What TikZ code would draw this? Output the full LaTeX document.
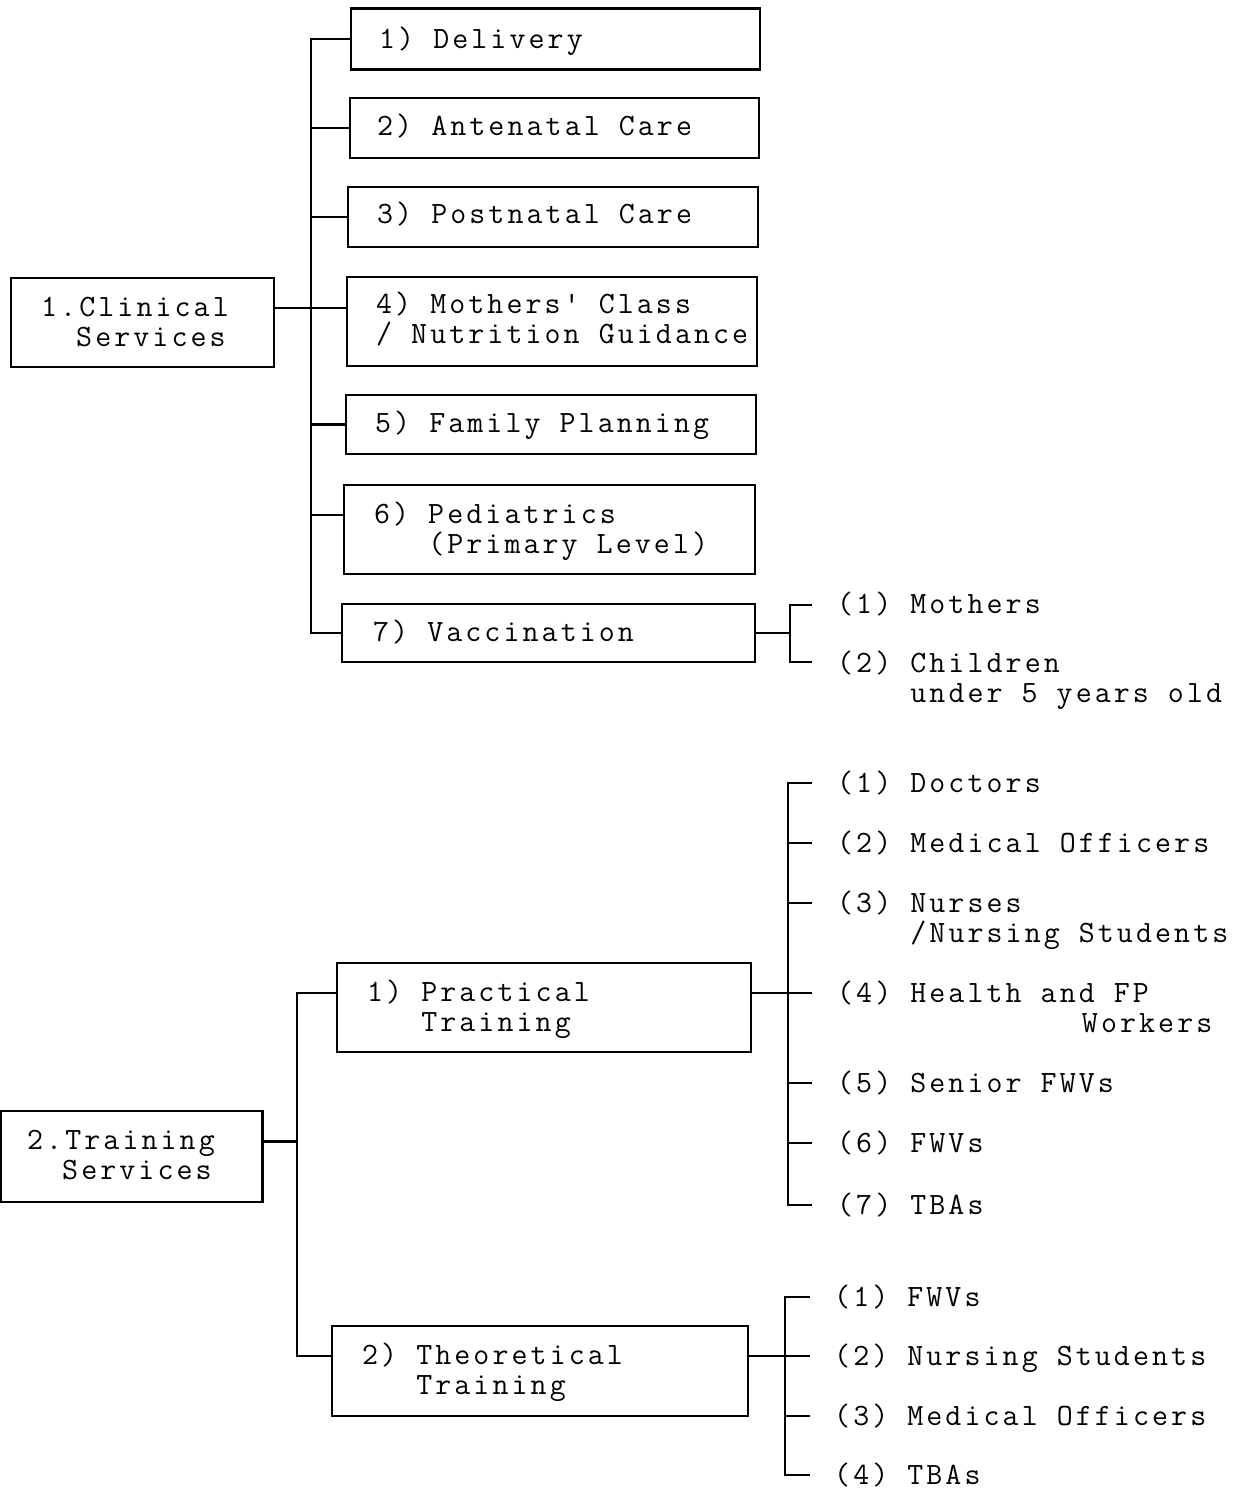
\documentclass[tikz,border=0pt]{standalone}
\usepackage{fontspec}
\newfontfamily\mono{Latin Modern Mono}[LetterSpace=10]
\usetikzlibrary{calc}
\begin{document}
\begin{tikzpicture}[x=0.5pt,y=-0.5pt,line width=1.2pt,
  box/.style={draw,rectangle,inner sep=0pt,line width=1.2pt},
  lbl/.style={anchor=base west,inner sep=0pt,align=left,
    font=\mono\fontsize{15.5pt}{15pt}\selectfont}]
\useasboundingbox (0,0) rectangle (1238,1491);
% ---------- Clinical services ----------
\node[box,minimum width=131.5pt,minimum height=44.5pt] (c1) at (142.5,322.5) {};
\node[box,minimum width=204.5pt,minimum height=30.5pt] (d1) at (555.5,39) {};
\node[box,minimum width=204.5pt,minimum height=30pt] (d2) at (554.5,128) {};
\node[box,minimum width=205pt,minimum height=30pt] (d3) at (553,217) {};
\node[box,minimum width=205pt,minimum height=44.5pt] (d4) at (552,321.5) {};
\node[box,minimum width=205pt,minimum height=29.5pt] (d5) at (551,424.5) {};
\node[box,minimum width=205.5pt,minimum height=44.5pt] (d6) at (549.5,529.5) {};
\node[box,minimum width=206.5pt,minimum height=29pt] (d7) at (548.5,633) {};

% (two-line labels: base anchor is the baseline of the last line)
\node[lbl] (tc1) at (40,347) {1.Clinical\\\phantom{00}Services};
\node[lbl] (td1) at (378,49) {1) Delivery};
\node[lbl] (td2) at (376,136) {2) Antenatal Care};
\node[lbl] (td3) at (376,224) {3) Postnatal Care};
\node[lbl] (td4) at (375,344) {4) Mothers' Class\\/ Nutrition Guidance};
\node[lbl] (td5) at (374,433) {5) Family Planning};
\node[lbl] (td6) at (373,553) {6) Pediatrics\\\phantom{6)0}(Primary Level)};
\node[lbl] (td7) at (372,641) {7) Vaccination};
\node[lbl] (tm1) at (836,613) {(1) Mothers};
\node[lbl] (tm2) at (836,702) {(2) Children\\\phantom{(2)0}under 5 years old};

\coordinate (s1) at (311,0);
\coordinate (c1c) at ($(c1.north east)!0.34!(c1.south east)$);
\coordinate (d4c) at ($(d4.north west)!0.34!(d4.south west)$);
\coordinate (d6c) at ($(d6.north west)!0.34!(d6.south west)$);
\draw (d1.west) -- (d1.west -| s1) -- (d7.west -| s1) -- (d7.west);
\draw (d2.west) -- (d2.west -| s1);
\draw (d3.west) -- (d3.west -| s1);
\draw (d5.west) -- (d5.west -| s1);
\draw (d6c) -- (d6c -| s1);
\draw (c1c) -- (c1c -| d4.west);

\coordinate (v) at (790,0);
\coordinate (vb1) at (812,605);
\coordinate (vb2) at (812,662);
\draw (d7.east) -- (d7.east -| v);
\draw (vb1) -| (d7.east -| v) |- (vb2);

% ---------- Training services ----------
\node[box,minimum width=131pt,minimum height=45.5pt] (tr) at (131.5,1156.5) {};
\node[box,minimum width=207pt,minimum height=44.5pt] (pr) at (544,1007.5) {};
\node[box,minimum width=208pt,minimum height=45pt] (th) at (540,1371) {};

\node[lbl] (ttr) at (26,1179) {2.Training\\\phantom{00}Services};
\node[lbl] (tpr) at (366,1031) {1) Practical\\\phantom{1)0}Training};
\node[lbl] (tth) at (361,1394) {2) Theoretical\\\phantom{2)0}Training};

\coordinate (s2) at (297,0);
\coordinate (trc) at ($(tr.north east)!0.34!(tr.south east)$);
\coordinate (prc) at ($(pr.north west)!0.34!(pr.south west)$);
\coordinate (prce) at ($(pr.north east)!0.34!(pr.south east)$);
\coordinate (thc) at ($(th.north west)!0.34!(th.south west)$);
\coordinate (thce) at ($(th.north east)!0.34!(th.south east)$);
\draw (prc) -- (prc -| s2) -- (thc -| s2) -- (thc);
\draw (trc) -- (trc -| s2);

% practical sub-list
\node[lbl] (p1) at (836,792) {(1) Doctors};
\node[lbl] (p2) at (836,852) {(2) Medical Officers};
\node[lbl] (p3) at (836,942) {(3) Nurses\\\phantom{(3)0}/Nursing Students};
\node[lbl] (p4) at (836,1032) {(4) Health and FP\\\phantom{0000000000000}Workers};
\node[lbl] (p5) at (836,1092) {(5) Senior FWVs};
\node[lbl] (p6) at (836,1152) {(6) FWVs};
\node[lbl] (p7) at (836,1214) {(7) TBAs};

\coordinate (pb) at (788,0);
\coordinate (pt1) at (812,783);
\coordinate (pt2) at (812,843);
\coordinate (pt3) at (812,903);
\coordinate (pt4) at (812,993);
\coordinate (pt5) at (812,1083);
\coordinate (pt6) at (812,1143);
\coordinate (pt7) at (812,1205);
\draw (prce) -- (prce -| pb);
\draw (pt1) -| (pt7 -| pb) -- (pt7);
\foreach \k in {2,...,6} \draw (pt\k -| pb) -- (pt\k);

% theoretical sub-list
\node[lbl] (q1) at (833,1306) {(1) FWVs};
\node[lbl] (q2) at (833,1365) {(2) Nursing Students};
\node[lbl] (q3) at (833,1425) {(3) Medical Officers};
\node[lbl] (q4) at (833,1484) {(4) TBAs};

\coordinate (qb) at (785,0);
\coordinate (qt1) at (810,1297);
\coordinate (qt2) at (810,1356);
\coordinate (qt3) at (810,1416);
\coordinate (qt4) at (810,1475);
\draw (thce) -- (thce -| qb);
\draw (qt1) -| (qt4 -| qb) -- (qt4);
\foreach \k in {2,3} \draw (qt\k -| qb) -- (qt\k);
\end{tikzpicture}
\end{document}
